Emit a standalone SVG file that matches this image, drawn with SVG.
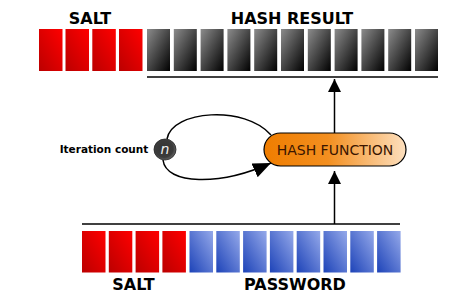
<svg xmlns="http://www.w3.org/2000/svg" width="475" height="306" viewBox="0 0 475 306">
<defs>
<linearGradient id="gRed" x1="1" y1="0" x2="0" y2="1"><stop offset="0" stop-color="#ff0000"/><stop offset="1" stop-color="#bb0000"/></linearGradient>
<linearGradient id="gBlack" x1="0" y1="0" x2="1" y2="1"><stop offset="0" stop-color="#8c8c8c"/><stop offset="1" stop-color="#000000"/></linearGradient>
<linearGradient id="gBlue" x1="1" y1="0" x2="0" y2="1"><stop offset="0" stop-color="#95a9ea"/><stop offset="1" stop-color="#1d43b8"/></linearGradient>
<linearGradient id="gOrange" x1="0" y1="0" x2="1" y2="0"><stop offset="0" stop-color="#ef7d00"/><stop offset="0.45" stop-color="#f38f20"/><stop offset="1" stop-color="#fde0bf"/></linearGradient>
<radialGradient id="gCircle" cx="0.45" cy="0.45" r="0.6"><stop offset="0" stop-color="#333333"/><stop offset="0.7" stop-color="#3c3c3c"/><stop offset="1" stop-color="#707070"/></radialGradient>
<marker id="arr" markerUnits="userSpaceOnUse" markerWidth="14" markerHeight="14" refX="13" refY="6.5" orient="auto"><path d="M0,0 L13,6.5 L0,13 Z" fill="#000"/></marker>
<marker id="arrBig" markerUnits="userSpaceOnUse" markerWidth="20" markerHeight="16" refX="18" refY="7.5" orient="auto"><path d="M0,0 L18,7.5 L0,15 Z" fill="#000"/></marker>
</defs>
<style>
.red{fill:url(#gRed)}
.blk{fill:url(#gBlack)}
.blu{fill:url(#gBlue)}
.lbl{font-family:"DejaVu Sans",Verdana,sans-serif;font-weight:bold;font-size:16px;fill:#000;text-anchor:middle}
.ln{stroke:#000;stroke-width:1.5;fill:none}
</style>

<g id="salt-top">
<text class="lbl" x="90" y="24">SALT</text>
<rect class="red" x="39" y="29" width="23.5" height="42"/>
<rect class="red" x="65.5" y="29" width="23.5" height="42"/>
<rect class="red" x="92.3" y="29" width="23.5" height="42"/>
<rect class="red" x="119" y="29" width="23.5" height="42"/>
</g>

<g id="hash-result">
<text class="lbl" x="292" y="24">HASH RESULT</text>
<rect class="blk" x="147" y="29" width="23" height="42"/>
<rect class="blk" x="173.8" y="29" width="23" height="42"/>
<rect class="blk" x="200.6" y="29" width="23" height="42"/>
<rect class="blk" x="227.4" y="29" width="23" height="42"/>
<rect class="blk" x="254.2" y="29" width="23" height="42"/>
<rect class="blk" x="281" y="29" width="23" height="42"/>
<rect class="blk" x="307.8" y="29" width="23" height="42"/>
<rect class="blk" x="334.6" y="29" width="23" height="42"/>
<rect class="blk" x="361.4" y="29" width="23" height="42"/>
<rect class="blk" x="388.2" y="29" width="23" height="42"/>
<rect class="blk" x="415" y="29" width="23" height="42"/>
</g>

<g id="hash-function">
<rect x="264" y="133" width="142" height="33" rx="16.5" ry="16.5" fill="url(#gOrange)" stroke="#000" stroke-width="1.2"/>
<text x="335" y="155" font-family="DejaVu Sans,Verdana,sans-serif" font-size="14" fill="#3a1500" text-anchor="middle">HASH FUNCTION</text>
</g>

<g id="iteration">
<text x="104" y="152.5" font-family="DejaVu Sans,Verdana,sans-serif" font-weight="bold" font-size="10.5" fill="#000" text-anchor="middle">Iteration count</text>
<ellipse cx="165" cy="149.5" rx="11" ry="10.5" fill="url(#gCircle)" stroke="#222" stroke-width="0.8"/>
<text x="165" y="154" font-family="DejaVu Sans,Verdana,sans-serif" font-style="italic" font-size="14" fill="#f0f0f0" text-anchor="middle">n</text>
</g>

<g id="salt-bottom">
<rect class="red" x="82" y="231" width="23.5" height="41.5"/>
<rect class="red" x="108.8" y="231" width="23.5" height="41.5"/>
<rect class="red" x="135.6" y="231" width="23.5" height="41.5"/>
<rect class="red" x="162.4" y="231" width="23.5" height="41.5"/>
<text class="lbl" x="133.5" y="290">SALT</text>
</g>

<g id="password">
<rect class="blu" x="189.5" y="231" width="23.5" height="41.5"/>
<rect class="blu" x="216.3" y="231" width="23.5" height="41.5"/>
<rect class="blu" x="243.1" y="231" width="23.5" height="41.5"/>
<rect class="blu" x="269.9" y="231" width="23.5" height="41.5"/>
<rect class="blu" x="296.7" y="231" width="23.5" height="41.5"/>
<rect class="blu" x="323.5" y="231" width="23.5" height="41.5"/>
<rect class="blu" x="350.3" y="231" width="23.5" height="41.5"/>
<rect class="blu" x="377.1" y="231" width="23.5" height="41.5"/>
<text class="lbl" x="295" y="290">PASSWORD</text>
</g>

<g id="connectors">
<line class="ln" x1="147" y1="77" x2="438" y2="77"/>
<line class="ln" x1="82" y1="224" x2="400" y2="224"/>
<line class="ln" x1="334.5" y1="133" x2="334.5" y2="79" marker-end="url(#arr)"/>
<line class="ln" x1="334.5" y1="224" x2="334.5" y2="171" marker-end="url(#arr)"/>
<path class="ln" d="M167,139 C172,110 245,105 271,135"/>
<path class="ln" d="M163,160 C166,185 220,186 271,163" marker-end="url(#arrBig)"/>
</g>
</svg>
